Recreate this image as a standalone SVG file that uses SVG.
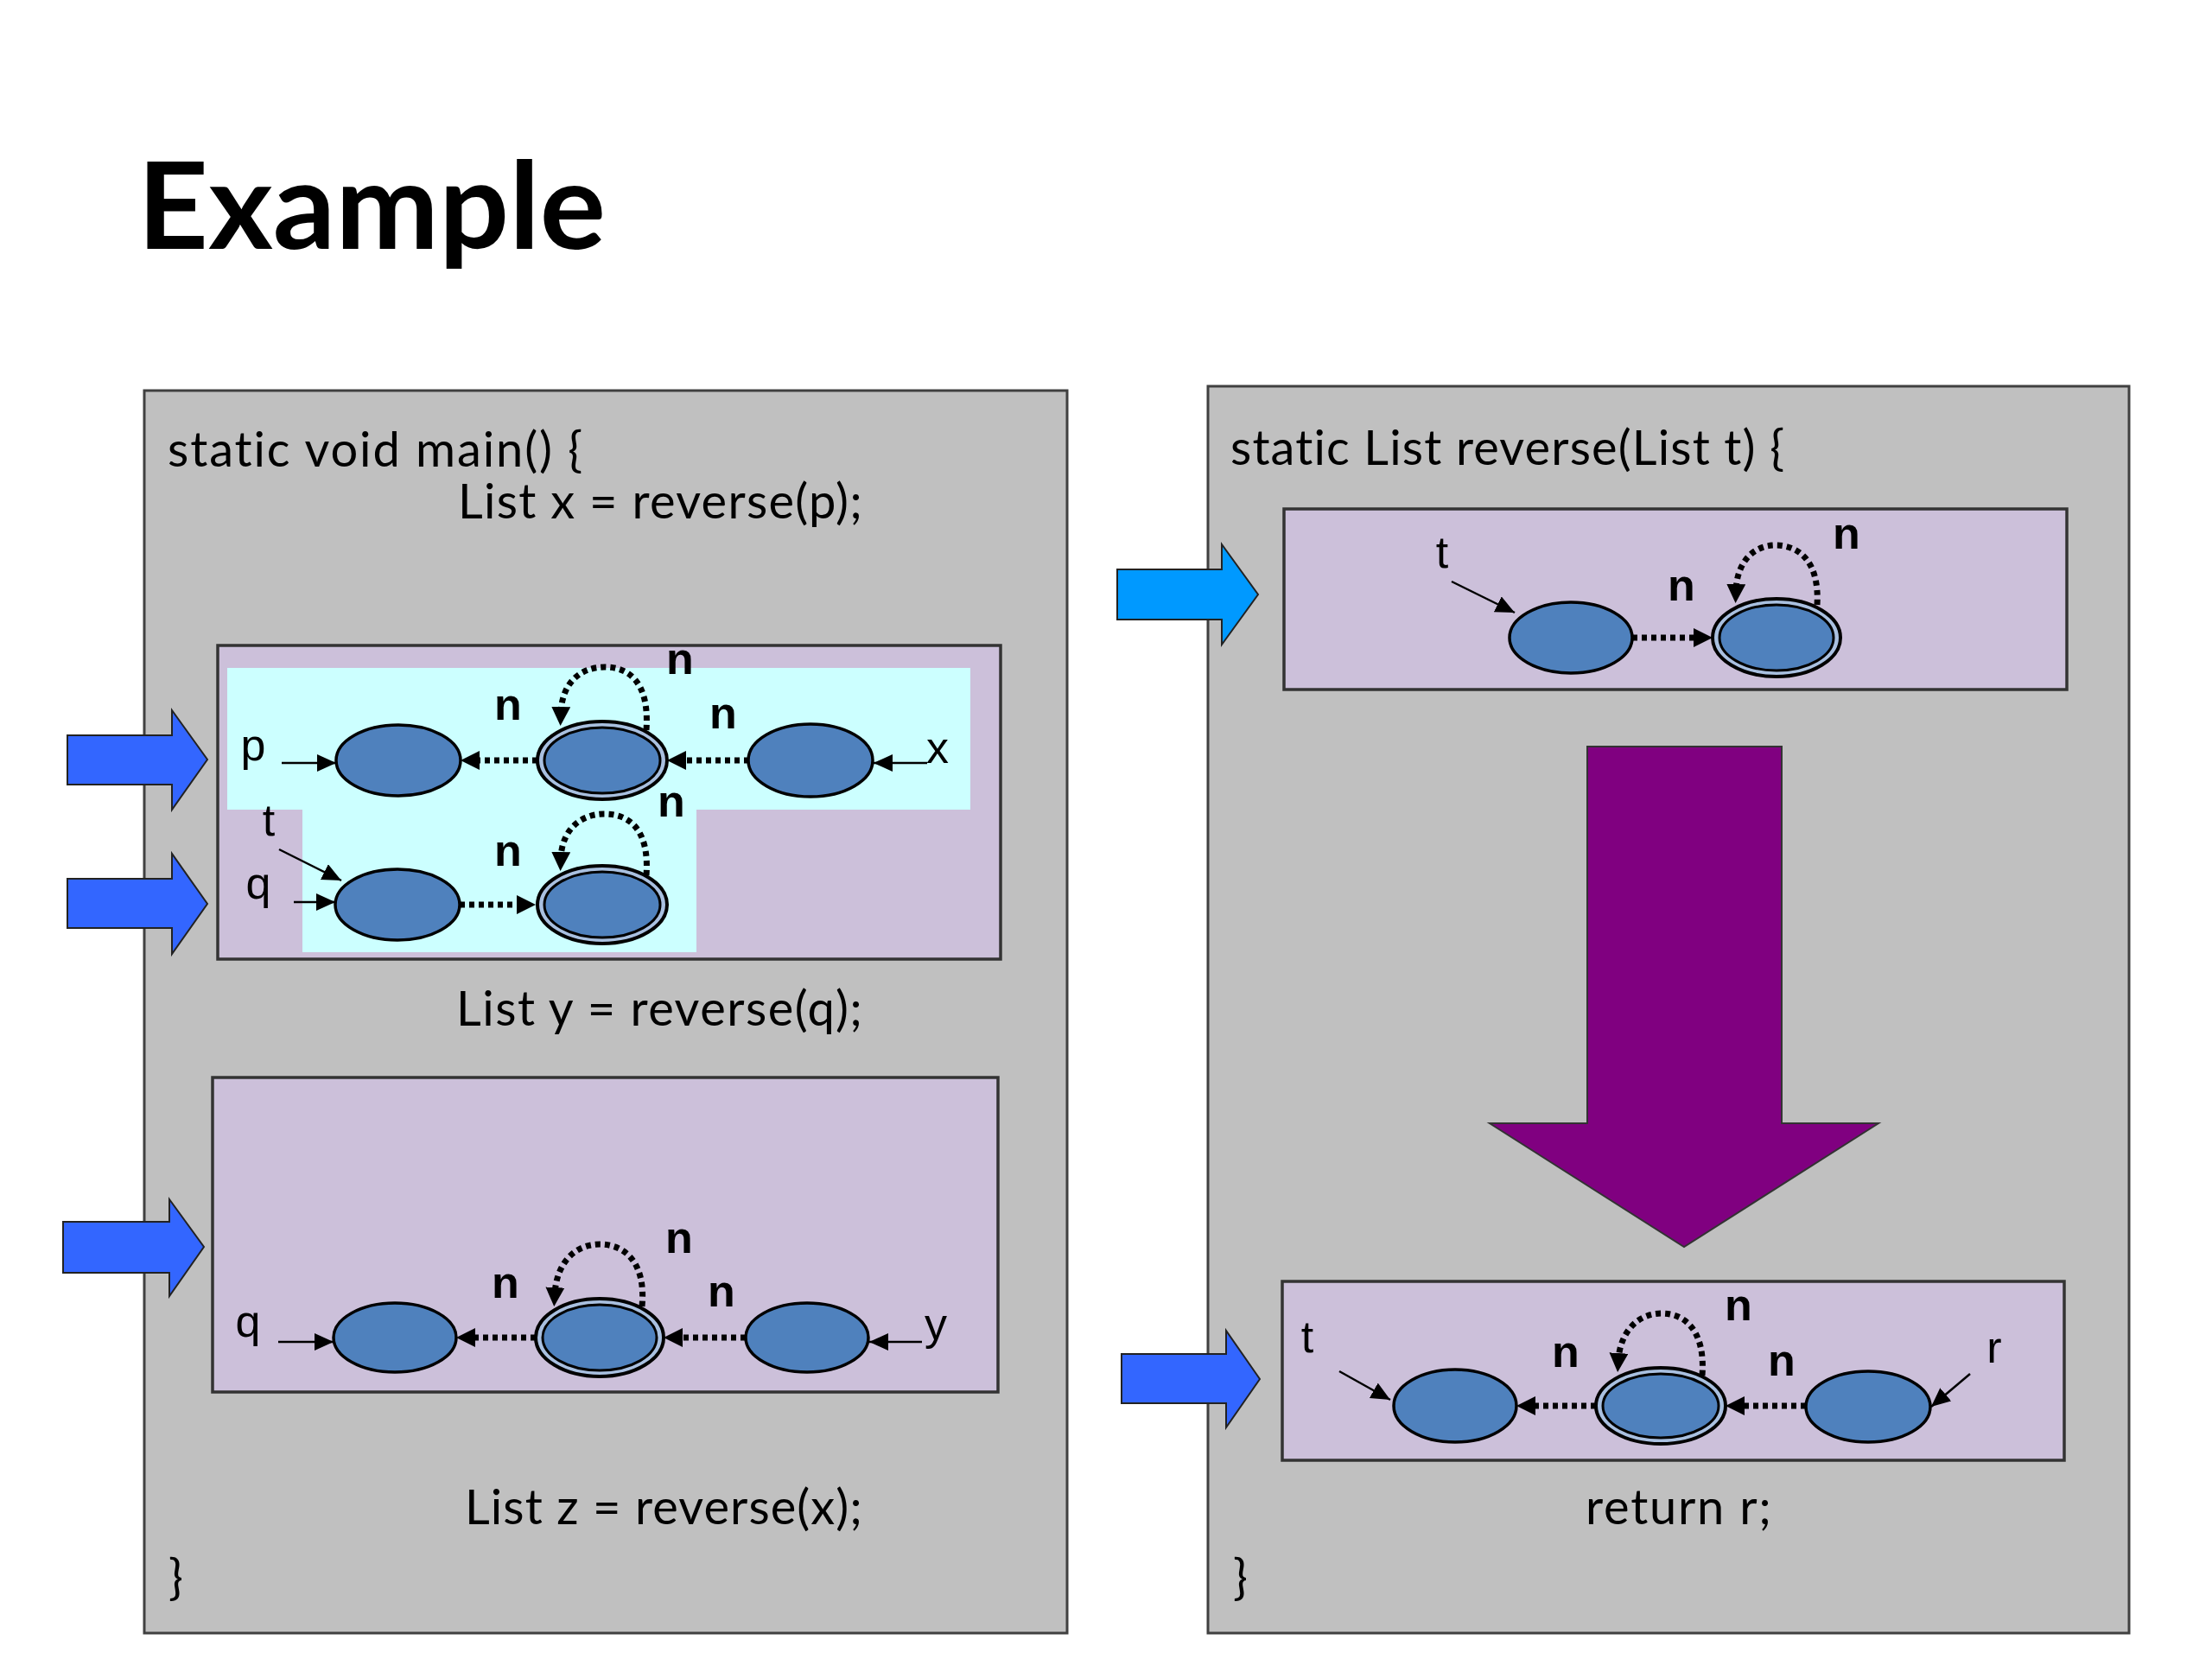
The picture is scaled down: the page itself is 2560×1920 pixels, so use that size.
<svg xmlns="http://www.w3.org/2000/svg" width="2560" height="1920" viewBox="0 0 2560 1920">
<defs>
<style>
.title{font-family:Lato,"Open Sans","Liberation Sans",sans-serif;font-weight:bold;font-size:140px;fill:#000}
.code{font-family:Lato,"Open Sans","Liberation Sans",sans-serif;font-size:56px;fill:#000;font-variant-ligatures:none;font-feature-settings:"liga" 0,"clig" 0}
.lbl{font-family:"Liberation Sans",Arial,sans-serif;font-size:52px;fill:#000;text-anchor:middle}
.nl{font-family:"Liberation Sans",Arial,sans-serif;font-size:52px;font-weight:bold;fill:#000;text-anchor:middle}
.panel{fill:#c0c0c0;stroke:#404040;stroke-width:3}
.box{fill:#ccc0da;stroke:#333;stroke-width:3.5}
.cyan{fill:#ccffff}
.node{fill:#4f81bd;stroke:#000;stroke-width:3.5}
.outer{fill:#a9c0e0;stroke:#000;stroke-width:4}
.inner{fill:#4f81bd;stroke:#000;stroke-width:3}
.ptr{fill:none;stroke:#000;stroke-width:2.5;marker-end:url(#ah)}
.dot{fill:none;stroke:#000;stroke-width:7;stroke-dasharray:6 5;marker-end:url(#dh)}
.barrow{fill:#3366ff;stroke:#222;stroke-width:2}
.carrow{fill:#0099ff;stroke:#222;stroke-width:2}
.parrow{fill:#800080;stroke:#333;stroke-width:2}
</style>
<marker id="ah" markerUnits="userSpaceOnUse" markerWidth="24" markerHeight="22" refX="22" refY="10" orient="auto"><path d="M0,0 L22,10 L0,20 z" fill="#000"/></marker>
<marker id="dh" markerUnits="userSpaceOnUse" markerWidth="24" markerHeight="24" refX="8" refY="11" orient="auto"><path d="M0,0 L22,11 L0,22 z" fill="#000"/></marker>
</defs>
<rect width="2560" height="1920" fill="#fff"/>
<text class="title" x="159" y="288" textLength="542" lengthAdjust="spacingAndGlyphs">Example</text>

<g id="main-panel">
<rect class="panel" x="167" y="452" width="1068" height="1438"/>
<text class="code" x="194" y="540" textLength="480" lengthAdjust="spacing">static void main() {</text>
<text class="code" x="530" y="600" textLength="468" lengthAdjust="spacing">List x = reverse(p);</text>
<text class="code" x="528" y="1187" textLength="470" lengthAdjust="spacing">List y = reverse(q);</text>
<text class="code" x="538" y="1764" textLength="460" lengthAdjust="spacing">List z = reverse(x);</text>
<text class="code" x="195" y="1845">}</text>
</g>

<g id="reverse-panel">
<rect class="panel" x="1398" y="447" width="1066" height="1443"/>
<text class="code" x="1424" y="538" textLength="641" lengthAdjust="spacing">static List reverse(List t) {</text>
<text class="code" x="1835" y="1764" textLength="215" lengthAdjust="spacing">return r;</text>
<text class="code" x="1427" y="1845">}</text>
</g>

<g id="heap-box-1">
<rect class="box" x="252" y="747" width="906" height="363"/>
<path class="cyan" d="M263,773 H1123 V937 H806 V1102 H350 V937 H263 Z"/>
</g>
<g id="heap-box-2">
<rect class="box" x="246" y="1247" width="909" height="364"/>
</g>
<g id="heap-box-3">
<rect class="box" x="1486" y="589" width="906" height="209"/>
</g>
<g id="heap-box-4">
<rect class="box" x="1484" y="1483" width="905" height="207"/>
</g>

<g id="big-arrows">
<polygon class="barrow" points="78,851 199,851 199,822 240,879 199,937 199,908 78,908"/>
<polygon class="barrow" points="78,1017 199,1017 199,988 240,1046 199,1104 199,1074 78,1074"/>
<polygon class="barrow" points="73,1414 196,1414 196,1388 236,1443 196,1500 196,1473 73,1473"/>
<polygon class="carrow" points="1293,659 1414,659 1414,630 1456,688 1414,746 1414,717 1293,717"/>
<polygon class="barrow" points="1298,1567 1419,1567 1419,1540 1458,1596 1419,1652 1419,1624 1298,1624"/>
<polygon class="parrow" points="1837,864 2062,864 2062,1300 2174,1300 1949,1443 1724,1300 1837,1300"/>
</g>

<!-- nodes box 1 -->
<g id="b1-r1-n1"><ellipse class="node" cx="461" cy="880" rx="72" ry="41"/></g>
<g id="b1-r1-n2"><ellipse class="outer" cx="697" cy="880" rx="75" ry="45"/><ellipse class="inner" cx="697" cy="880" rx="67" ry="38"/></g>
<g id="b1-r1-n3"><ellipse class="node" cx="938" cy="880" rx="72" ry="42"/></g>
<g id="b1-r2-n1"><ellipse class="node" cx="460" cy="1047" rx="72" ry="41"/></g>
<g id="b1-r2-n2"><ellipse class="outer" cx="697" cy="1047" rx="75" ry="45"/><ellipse class="inner" cx="697" cy="1047" rx="67" ry="38"/></g>
<!-- nodes box 2 -->
<g id="b2-n1"><ellipse class="node" cx="457" cy="1548" rx="71" ry="40"/></g>
<g id="b2-n2"><ellipse class="outer" cx="694" cy="1548" rx="74" ry="45"/><ellipse class="inner" cx="694" cy="1548" rx="66" ry="38"/></g>
<g id="b2-n3"><ellipse class="node" cx="934" cy="1548" rx="71" ry="40"/></g>
<!-- nodes box 3 -->
<g id="b3-n1"><ellipse class="node" cx="1818" cy="738" rx="71" ry="41"/></g>
<g id="b3-n2"><ellipse class="outer" cx="2056" cy="738" rx="74" ry="45"/><ellipse class="inner" cx="2056" cy="738" rx="66" ry="38"/></g>
<!-- nodes box 4 -->
<g id="b4-n1"><ellipse class="node" cx="1684" cy="1627" rx="71" ry="42"/></g>
<g id="b4-n2"><ellipse class="outer" cx="1922" cy="1627" rx="75" ry="44"/><ellipse class="inner" cx="1922" cy="1627" rx="67" ry="37"/></g>
<g id="b4-n3"><ellipse class="node" cx="2162" cy="1628" rx="72" ry="41"/></g>

<g id="connectors">
<!-- box 1 row 1 -->
<line class="ptr" x1="326" y1="883" x2="389" y2="883"/>
<path class="dot" d="M622,880 L547,880"/>
<path class="dot" d="M867,880 L786,880"/>
<line class="ptr" x1="1073" y1="883" x2="1011" y2="883"/>
<path class="dot" d="M748,845 C752,790 728,772 700,772 C670,772 650,792 649,826"/>
<!-- box 1 row 2 -->
<line class="ptr" x1="323" y1="983" x2="395" y2="1019"/>
<line class="ptr" x1="340" y1="1044" x2="388" y2="1044"/>
<path class="dot" d="M532,1047 L606,1047"/>
<path class="dot" d="M748,1013 C752,960 728,942 700,942 C670,942 650,962 649,994"/>
<!-- box 2 -->
<line class="ptr" x1="322" y1="1553" x2="386" y2="1553"/>
<path class="dot" d="M620,1548 L542,1548"/>
<path class="dot" d="M863,1548 L782,1548"/>
<line class="ptr" x1="1067" y1="1553" x2="1006" y2="1553"/>
<path class="dot" d="M743,1512 C748,1460 722,1440 694,1440 C665,1440 644,1462 642,1498"/>
<!-- box 3 -->
<line class="ptr" x1="1680" y1="673" x2="1753" y2="709"/>
<path class="dot" d="M1889,738 L1968,738"/>
<path class="dot" d="M2103,700 C2106,650 2082,631 2055,631 C2028,631 2010,652 2009,684"/>
<!-- box 4 -->
<line class="ptr" x1="1550" y1="1587" x2="1609" y2="1620"/>
<path class="dot" d="M1847,1627 L1769,1627"/>
<path class="dot" d="M2090,1627 L2011,1627"/>
<line class="ptr" x1="2280" y1="1590" x2="2235" y2="1628"/>
<path class="dot" d="M1970,1592 C1974,1540 1950,1520 1923,1520 C1895,1520 1875,1542 1873,1574"/>
</g>

<g id="labels">
<text class="lbl" x="293" y="880">p</text>
<text class="lbl" x="1085" y="883">x</text>
<text class="lbl" x="311" y="967">t</text>
<text class="lbl" x="299" y="1040">q</text>
<text class="nl" x="588" y="833">n</text>
<text class="nl" x="787" y="780">n</text>
<text class="nl" x="837" y="843">n</text>
<text class="nl" x="777" y="945">n</text>
<text class="nl" x="588" y="1002">n</text>

<text class="lbl" x="287" y="1547">q</text>
<text class="lbl" x="1083" y="1550">y</text>
<text class="nl" x="585" y="1502">n</text>
<text class="nl" x="786" y="1450">n</text>
<text class="nl" x="835" y="1512">n</text>

<text class="lbl" x="1669" y="657">t</text>
<text class="nl" x="1946" y="695">n</text>
<text class="nl" x="2137" y="635">n</text>

<text class="lbl" x="1513" y="1565">t</text>
<text class="lbl" x="2308" y="1577">r</text>
<text class="nl" x="1812" y="1582">n</text>
<text class="nl" x="2012" y="1528">n</text>
<text class="nl" x="2062" y="1592">n</text>
</g>
</svg>
